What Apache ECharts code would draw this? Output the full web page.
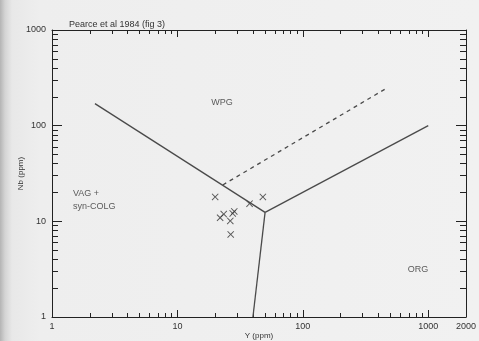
<!DOCTYPE html>
<html>
<head>
<meta charset="utf-8">
<script src="https://cdn.jsdelivr.net/npm/echarts@6/dist/echarts.min.js"></script>
<style>
  html, body { margin: 0; padding: 0; }
  body { background: linear-gradient(to right, #b4b4b4 0, #d4d4d4 5px, #e8e8e8 12px, #eeeeee 40px, #f1f1f1 100%); }
  #chart { width: 479px; height: 341px; }
</style>
</head>
<body>
<div id="chart"></div>
<script>
// Pearce et al 1984 (fig 3): Nb vs Y discrimination diagram

// axis ticks
const xMajor = [1, 10, 100, 1000]
const xMinor = [2, 3, 4, 5, 6, 7, 8, 9, 20, 30, 40, 50, 60, 70, 80, 90, 200, 300, 400, 500, 600, 700, 800, 900]
const xLabels = [1, 10, 100, 1000, 2000]
const yMajor = [1, 10, 100, 1000]
const yMinor = [2, 3, 4, 5, 6, 7, 8, 9, 20, 30, 40, 50, 60, 70, 80, 90, 200, 300, 400, 500, 600, 700, 800, 900]
const yLabels = [1, 10, 100, 1000]

// field boundaries, [Y, Nb] in ppm
const vagWpgLine = [[2.2, 170], [50, 12.4]]
const wpgOrgLine = [[50, 12.4], [1000, 100]]
const vagOrgLine = [[50, 12.4], [40, 1]]
const orgUpperLine = [[23, 24], [450, 240]]

// samples
const sampleY = [20, 48, 23.4, 21.9, 28.4, 27.6, 26.4, 26.6, 37.6]
const sampleNb = [18, 18, 11.9, 10.9, 12.7, 12.1, 10.1, 7.3, 15.3]

// field names
const fieldNames = ['WPG', 'VAG +\nsyn-COLG', 'ORG']
const fieldY = [22.7, 1.47, 829]
const fieldNb = [174, 16.7, 3.16]

const font = 'Liberation Sans, Arial, sans-serif'
const ink = '#222'

const xAxisBase = { type: 'log', min: 1, max: 2000, splitLine: { show: false } }
const yAxisBase = { type: 'log', min: 1, max: 1000, splitLine: { show: false } }

const tickAxis = (base, position, values, len, withLine) => Object.assign({}, base, {
  position: position,
  axisLine: { show: withLine, onZero: false, lineStyle: { color: ink, width: 1 } },
  axisTick: { show: true, inside: true, length: len, customValues: values, lineStyle: { color: ink, width: 1 } },
  axisLabel: { show: false }
})

const chart = echarts.init(document.getElementById('chart'))

const option = {
  animation: false,
  title: {
    text: 'Pearce et al 1984 (fig 3)',
    left: 64,
    top: 15,
    textStyle: { fontFamily: font, fontSize: 9, fontWeight: 'normal', color: '#333' }
  },
  grid: { left: 52, right: 13, top: 30, bottom: 24, outerBoundsMode: 'none', containLabel: false },
  xAxis: [
    Object.assign(tickAxis(xAxisBase, 'bottom', xMajor, 7, true), {
      name: 'Y (ppm)',
      nameLocation: 'middle',
      nameGap: 15,
      nameMoveOverlap: false,
      nameTextStyle: { fontFamily: font, fontSize: 8, color: '#333' },
      axisLabel: { show: true, customValues: xLabels, margin: 5, fontFamily: font, fontSize: 9, color: '#333', formatter: v => String(v) }
    }),
    tickAxis(xAxisBase, 'bottom', xMinor, 4, false),
    tickAxis(xAxisBase, 'top', xMajor, 7, true),
    tickAxis(xAxisBase, 'top', xMinor, 4, false)
  ],
  yAxis: [
    Object.assign(tickAxis(yAxisBase, 'left', yMajor, 10, true), {
      name: 'Nb (ppm)',
      nameLocation: 'middle',
      nameGap: 27,
      nameMoveOverlap: false,
      nameTextStyle: { fontFamily: font, fontSize: 8, color: '#333' },
      axisLabel: { show: true, customValues: yLabels, margin: 6, fontFamily: font, fontSize: 9, color: '#333', formatter: v => String(v) }
    }),
    tickAxis(yAxisBase, 'left', yMinor, 6, false),
    tickAxis(yAxisBase, 'right', yMajor, 10, true),
    tickAxis(yAxisBase, 'right', yMinor, 6, false)
  ],
  series: [
    ...[vagWpgLine, wpgOrgLine, vagOrgLine].map(d => ({
      type: 'line',
      data: d,
      symbol: 'none',
      silent: true,
      lineStyle: { color: '#4a4a4a', width: 1.3 }
    })),
    {
      type: 'line',
      data: orgUpperLine,
      symbol: 'none',
      silent: true,
      lineStyle: { color: '#4a4a4a', width: 1.3, type: [4, 4] }
    },
    {
      type: 'scatter',
      data: sampleY.map((y, i) => [y, sampleNb[i]]),
      symbol: 'path://M0,1L1,0L5,4L9,0L10,1L6,5L10,9L9,10L5,6L1,10L0,9L4,5Z',
      symbolSize: 7,
      itemStyle: { color: '#333' }
    },
    {
      type: 'scatter',
      symbolSize: 0,
      silent: true,
      data: fieldNames.map((n, i) => ({
        name: n,
        value: [fieldY[i], fieldNb[i]],
        label: i === 1 ? { align: 'left' } : {}
      })),
      label: {
        show: true,
        position: 'inside',
        formatter: p => p.name,
        fontFamily: font,
        fontSize: 9,
        lineHeight: 13,
        color: '#333'
      }
    }
  ]
}

chart.setOption(option)
</script>
</body>
</html>
